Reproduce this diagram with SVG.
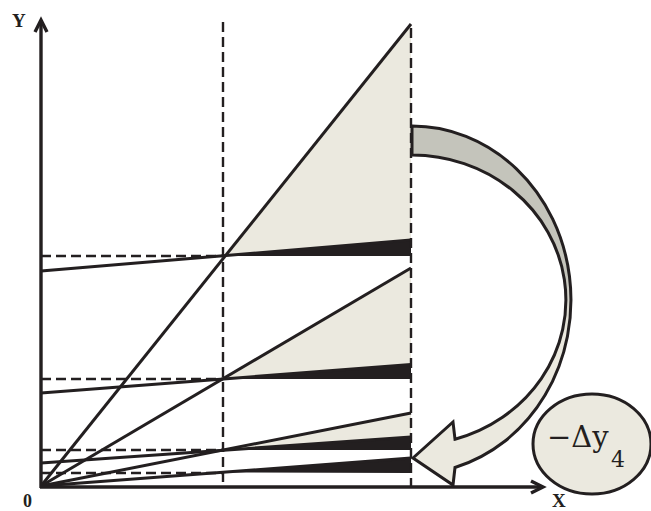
<svg xmlns="http://www.w3.org/2000/svg" width="651" height="511" viewBox="0 0 651 511">
  <style>
    .beige { fill: #ebe9df; stroke: none; }
    .wedge { fill: #231f20; stroke: none; }
    .solid { stroke: #231f20; stroke-width: 3; fill: none; }
    .dash { stroke: #231f20; stroke-width: 2.4; stroke-dasharray: 10 5; fill: none; }
    .axis { stroke: #231f20; stroke-width: 3.4; fill: none; }
    .lbl { font-family: "Liberation Serif", "Times New Roman", serif; font-weight: bold; fill: #231f20; }
    .math { font-family: "DejaVu Serif", "Liberation Serif", serif; fill: #231f20; }
  </style>
  <defs>
    <linearGradient id="arrowGrad" gradientUnits="userSpaceOnUse" x1="0" y1="126" x2="0" y2="485">
      <stop offset="0" stop-color="#c4c4bb"/>
      <stop offset="0.42" stop-color="#c4c4bb"/>
      <stop offset="0.58" stop-color="#ebe9df"/>
      <stop offset="1" stop-color="#ebe9df"/>
    </linearGradient>
  </defs>
  <rect width="651" height="511" fill="#ffffff"/>

  <!-- filled regions -->
  <g id="regions">
    <polygon class="beige" points="223,256 411,24 411,240"/>
    <polygon class="wedge" points="223,256 411,240 411,256"/>
    <polygon class="beige" points="223,379 411,268 411,364.5"/>
    <polygon class="wedge" points="223,379 411,364.5 411,379"/>
    <polygon class="beige" points="223,450 411,413 411,437"/>
    <polygon class="wedge" points="223,450 411,437 411,450"/>
    <polygon class="wedge" points="223,472.5 411,458 411,473"/>
  </g>

  <g id="connectors">
    <!-- horizontal dashed levels -->
    <line class="dash" x1="41" y1="256" x2="223" y2="256"/>
    <line class="dash" x1="41" y1="379" x2="223" y2="379"/>
    <line class="dash" x1="41" y1="450" x2="223" y2="450"/>
    <line class="dash" x1="41" y1="473" x2="223" y2="473"/>
    <!-- lines from origin -->
    <line class="solid" x1="41" y1="486" x2="411" y2="24"/>
    <line class="solid" x1="41" y1="486" x2="411" y2="268"/>
    <line class="solid" x1="41" y1="486" x2="411" y2="413"/>
    <line class="solid" x1="41" y1="486" x2="411" y2="458"/>
    <!-- lines with intercepts -->
    <line class="solid" x1="41" y1="271" x2="411" y2="240"/>
    <line class="solid" x1="41" y1="393" x2="411" y2="364.5"/>
    <line class="solid" x1="41" y1="463" x2="411" y2="437"/>
    <!-- vertical dashed -->
    <line class="dash" x1="223" y1="22" x2="223" y2="487"/>
    <line class="dash" x1="411" y1="28" x2="411" y2="487"/>
    <!-- axes -->
    <line class="axis" x1="41" y1="488" x2="41" y2="20"/>
    <polyline class="axis" points="35,32 41,20 47,32"/>
    <line class="axis" x1="40" y1="487" x2="542" y2="487"/>
    <polyline class="axis" points="531,481 543,487 531,493"/>
  </g>

  <g id="curved-arrow">
    <path d="M412,126 A159,174 0 0 1 455,467.5 L453,485 L413,458 L453,422 L455,439.2 A154,145 0 0 0 412,155 Z" fill="url(#arrowGrad)" stroke="#231f20" stroke-width="3" stroke-linejoin="miter"/>
  </g>

  <g id="label-bubble">
    <ellipse cx="592" cy="444" rx="59" ry="50" fill="#ebe9df" stroke="#231f20" stroke-width="3"/>
    <text class="math" font-size="29" x="547" y="447">−Δy</text>
    <text class="math" font-size="22" x="611" y="467">4</text>
  </g>

  <g id="axis-labels">
    <text class="lbl" font-size="19" x="12" y="27">Y</text>
    <text class="lbl" font-size="19" x="552" y="507">X</text>
    <text class="lbl" font-size="18" x="23" y="507">0</text>
  </g>
</svg>
